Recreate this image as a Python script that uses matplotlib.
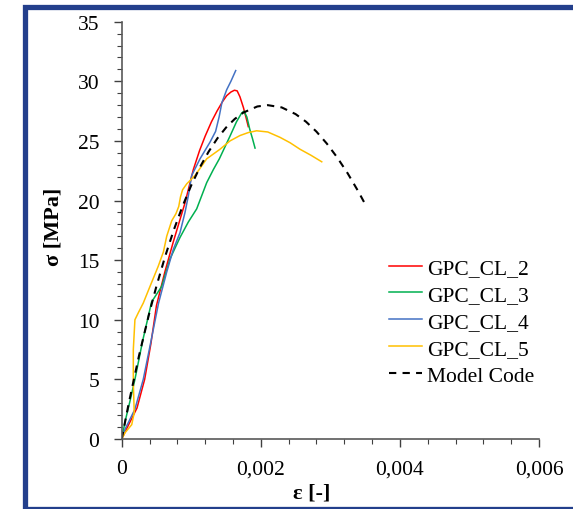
import matplotlib.pyplot as plt
from matplotlib.patches import Rectangle
from matplotlib.ticker import MultipleLocator

plt.rcParams['font.family'] = ['Liberation Serif', 'DejaVu Serif']

# strain in per mille (scaled to [-] when plotted), stress in MPa
cl2_eps = [0, 0.10, 0.22, 0.33, 0.42, 0.50, 0.62, 0.74, 0.91, 1.03, 1.12, 1.20, 1.29, 1.37, 1.45, 1.51, 1.57, 1.62, 1.66, 1.70, 1.75, 1.79, 1.82]
cl2_sig = [0, 1.2, 2.6, 5.0, 8.0, 11.2, 14.0, 16.5, 19.8, 22.6, 24.2, 25.4, 26.6, 27.5, 28.3, 28.8, 29.1, 29.25, 29.2, 28.7, 27.8, 26.9, 26.2]

cl3_eps = [0, 0.05, 0.12, 0.19, 0.30, 0.43, 0.575, 0.694, 0.838, 0.958, 1.078, 1.15, 1.222, 1.318, 1.404, 1.557, 1.65, 1.72, 1.758, 1.80, 1.84, 1.88, 1.917]
cl3_sig = [0, 1.5, 3.2, 5.0, 8.2, 11.5, 12.8, 15.1, 16.9, 18.2, 19.3, 20.4, 21.5, 22.6, 23.5, 25.4, 26.6, 27.3, 27.5, 27.0, 26.0, 25.2, 24.4]

cl4_eps = [0, 0.047, 0.19, 0.31, 0.407, 0.53, 0.647, 0.742, 0.838, 0.91, 0.958, 1.006, 1.126, 1.27, 1.35, 1.40, 1.44, 1.51, 1.57, 1.639]
cl4_sig = [0, 0.8, 2.5, 5.0, 7.8, 11.4, 14.0, 15.9, 17.3, 19.0, 20.4, 22.1, 23.5, 24.9, 25.8, 27.0, 28.2, 29.3, 30.0, 30.9]

cl5_eps = [0, 0.047, 0.144, 0.18, 0.167, 0.167, 0.19, 0.24, 0.31, 0.407, 0.526, 0.60, 0.647, 0.719, 0.78, 0.82, 0.845, 0.875, 0.935,
           1.054, 1.222, 1.413, 1.557, 1.70, 1.82, 1.94, 2.10, 2.276, 2.42, 2.564, 2.72, 2.876]
cl5_sig = [0, 0.52, 1.2, 2.2, 4.7, 7.5, 10.0, 10.6, 11.4, 12.8, 14.5, 15.7, 17.0, 18.3, 18.9, 19.5, 20.3, 20.9, 21.4,
           22.1, 23.5, 24.3, 25.0, 25.45, 25.7, 25.85, 25.75, 25.3, 24.85, 24.3, 23.8, 23.25]

mc_eps = [0, 0.1, 0.25, 0.4, 0.5, 0.625, 0.75, 0.875, 1.0, 1.125, 1.25, 1.375, 1.5, 1.625, 1.75, 1.95, 2.1,
          2.3, 2.5, 2.65, 2.8, 2.95, 3.1, 3.25, 3.4, 3.5]
mc_sig = [0, 2.96, 7.02, 10.64, 12.83, 15.32, 17.55, 19.53, 21.28, 22.8, 24.1, 25.21, 26.12, 26.84, 27.38, 27.89, 28.0,
          27.81, 27.25, 26.61, 25.78, 24.77, 23.6, 22.27, 20.78, 19.7]

x_ticks = [0, 0.002, 0.004, 0.006]
x_ticklabels = ['0', '0,002', '0,004', '0,006']
y_ticks = [0, 5, 10, 15, 20, 25, 30, 35]


def scale(eps):
    return [e / 1000 for e in eps]


fig = plt.figure(figsize=(5.73, 5.10), dpi=100)
ax = fig.add_axes([0.2124, 0.1373, 0.7283, 0.8182])

ax.plot(scale(cl2_eps), cl2_sig, color='#FF0000', lw=1.1, label='GPC_CL_2')
ax.plot(scale(cl3_eps), cl3_sig, color='#00B050', lw=1.1, label='GPC_CL_3')
ax.plot(scale(cl4_eps), cl4_sig, color='#4472C4', lw=1.1, label='GPC_CL_4')
ax.plot(scale(cl5_eps), cl5_sig, color='#FFC000', lw=1.1, label='GPC_CL_5')
ax.plot(scale(mc_eps), mc_sig, color='black', lw=1.5, ls=(0, (3.5, 3)), label='Model Code')

ax.set_xlim(0, 0.006)
ax.set_ylim(0, 35)
ax.set_xticks(x_ticks)
ax.set_xticklabels(x_ticklabels)
ax.set_yticks(y_ticks)
ax.xaxis.set_minor_locator(MultipleLocator(0.0004))
ax.yaxis.set_minor_locator(MultipleLocator(1))
ax.tick_params(which='major', direction='out', length=5.5, width=1, labelsize=15.5, color='#404040')
ax.tick_params(which='minor', direction='out', length=3.6, width=0.8, color='#404040')
ax.tick_params(axis='y', which='major', pad=10.5)
ax.tick_params(axis='x', which='major', pad=9)

for side in ['top', 'right']:
    ax.spines[side].set_visible(False)
for side in ['left', 'bottom']:
    ax.spines[side].set_color('#595959')
    ax.spines[side].set_linewidth(1.2)

ax.set_xlabel('ε [-]', fontsize=16, fontweight='bold')
ax.set_ylabel('σ [MPa]', fontsize=16, fontweight='bold')
ax.xaxis.set_label_coords(0.456, -0.104)
ax.yaxis.set_label_coords(-0.139, 0.51)

ax.legend(loc='upper left', bbox_to_anchor=(389 / 573, 1 - 259 / 510), bbox_transform=fig.transFigure,
          frameon=False, fontsize=15.5, handlelength=1.55, handletextpad=0.2, labelspacing=0.32,
          borderpad=0, borderaxespad=0)

# frame around the whole figure
fig.patches.append(Rectangle((25.3 / 573, 1 - 509.5 / 510), 1.1, (509.5 - 7.5) / 510,
                             transform=fig.transFigure, fill=False,
                             edgecolor='#233F8C', lw=3.8, clip_on=False))

fig.savefig('out.png', dpi=100)
